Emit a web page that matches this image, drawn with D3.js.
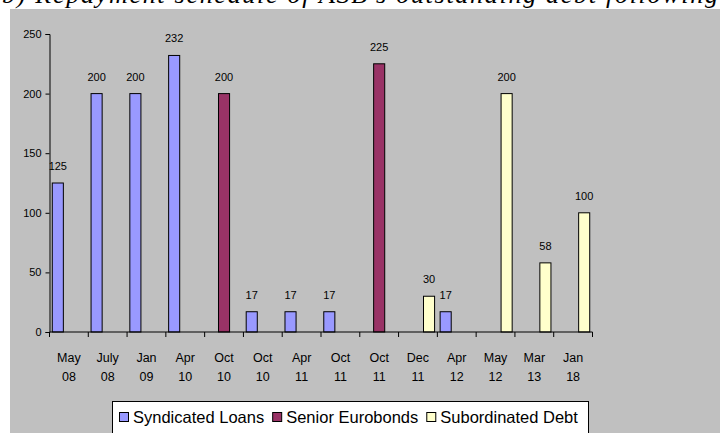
<!DOCTYPE html>
<html>
<head>
<meta charset="utf-8">
<script src="https://cdn.jsdelivr.net/npm/d3@7"></script>
<style>
  body { margin: 0; background: #fff; }
  svg { display: block; }
  text { font-family: "Liberation Sans", Arial, sans-serif; fill: #000; }
</style>
</head>
<body>
<svg id="chart" width="722" height="433"></svg>
<script>
// categories (two-line labels), one bar per category
const monthLabels = ["May", "July", "Jan", "Apr", "Oct", "Oct", "Apr", "Oct", "Oct", "Dec", "Apr", "May", "Mar", "Jan"];
const yearLabels  = ["08", "08", "09", "10", "10", "10", "11", "11", "11", "11", "12", "12", "13", "18"];
const seriesNames = ["Syndicated Loans", "Senior Eurobonds", "Subordinated Debt"];
const syndicatedLoans  = [125, 200, 200, 232, null, 17, 17, 17, null, null, 17, null, null, null];
const seniorEurobonds  = [null, null, null, null, 200, null, null, null, 225, null, null, null, null, null];
const subordinatedDebt = [null, null, null, null, null, null, null, null, null, 30, null, 200, 58, 100];
const yTicks = [0, 50, 100, 150, 200, 250];

const colors = ["#9999ff", "#993366", "#ffffcc"];
const seriesValues = [syndicatedLoans, seniorEurobonds, subordinatedDebt];

let svg = d3.select("#chart");

// heading above the chart, mostly cut off by the page edge as in the source
svg.append("text")
    .attr("x", 2)
    .attr("y", 3)
    .attr("textLength", 716)
    .style("font-family", "'Liberation Serif', 'Times New Roman', serif")
    .style("font-style", "italic")
    .style("font-size", "26px")
    .text("b) Repayment schedule of ASB's outstanding debt following");

// chart area background
svg.append("rect")
    .attr("x", 10).attr("y", 9)
    .attr("width", 710).attr("height", 424)
    .attr("fill", "#c0c0c0");

let plotLeft = 49.5, plotRight = 592.5, plotTop = 34, plotBottom = 332;

let idx = d3.range(monthLabels.length);
let x0 = d3.scaleBand().domain(idx).range([plotLeft, plotRight]);
let x1 = d3.scaleBand().domain(d3.range(seriesNames.length))
    .range([0, x0.bandwidth()]).paddingOuter(0.25);
let y = d3.scaleLinear().domain([0, 250]).range([plotBottom, plotTop]);

// y axis
let yAxis = svg.append("g")
    .attr("transform", "translate(" + plotLeft + ",0)")
    .call(d3.axisLeft(y).tickValues(yTicks).tickSize(4).tickPadding(4));
yAxis.attr("font-family", null).attr("font-size", null);
yAxis.select(".domain").attr("stroke", "#000");
yAxis.selectAll("text").style("font-size", "11px");

// bars
let bars = [];
seriesValues.forEach((vals, s) => {
    vals.forEach((v, i) => { if (v != null) bars.push({ i: i, s: s, v: v }); });
});

let g = svg.append("g");
g.selectAll("rect")
    .data(bars)
    .enter().append("rect")
    .attr("x", d => x0(d.i) + x1(d.s))
    .attr("y", d => y(d.v))
    .attr("width", x1.bandwidth())
    .attr("height", d => y(0) - y(d.v))
    .attr("fill", d => colors[d.s])
    .attr("stroke", "#000")
    .attr("stroke-width", 1);

g.selectAll(".lbl")
    .data(bars)
    .enter().append("text")
    .attr("class", "lbl")
    .attr("x", d => x0(d.i) + x1(d.s) + x1.bandwidth() / 2)
    .attr("y", d => y(d.v) - 13)
    .attr("text-anchor", "middle")
    .style("font-size", "11px")
    .text(d => d.v);

// x axis: ticks on category boundaries
let xg = svg.append("g");
xg.append("line")
    .attr("x1", plotLeft).attr("x2", plotRight)
    .attr("y1", plotBottom).attr("y2", plotBottom)
    .attr("stroke", "#000");
xg.selectAll(".tk")
    .data(idx.concat([idx.length]))
    .enter().append("line")
    .attr("x1", i => i < idx.length ? x0(i) : plotRight)
    .attr("x2", i => i < idx.length ? x0(i) : plotRight)
    .attr("y1", plotBottom).attr("y2", plotBottom + 5)
    .attr("stroke", "#000");
xg.selectAll(".m")
    .data(idx)
    .enter().append("text")
    .attr("x", i => x0(i) + x0.bandwidth() / 2)
    .attr("y", 362)
    .attr("text-anchor", "middle")
    .style("font-size", "12.5px")
    .text(i => monthLabels[i]);
xg.selectAll(".yr")
    .data(idx)
    .enter().append("text")
    .attr("x", i => x0(i) + x0.bandwidth() / 2)
    .attr("y", 381)
    .attr("text-anchor", "middle")
    .style("font-size", "12.5px")
    .text(i => yearLabels[i]);

// legend
let legend = svg.append("g");
legend.append("rect")
    .attr("x", 112.5).attr("y", 401.5)
    .attr("width", 476).attr("height", 40)
    .attr("fill", "#fff").attr("stroke", "#000");
let lx = 119;
seriesNames.forEach((name, s) => {
    legend.append("rect")
        .attr("x", lx + 0.5).attr("y", 412.5)
        .attr("width", 9).attr("height", 9)
        .attr("fill", colors[s]).attr("stroke", "#000");
    let t = legend.append("text")
        .attr("x", lx + 14).attr("y", 423)
        .style("font-size", "16.5px")
        .text(name);
    lx += 14 + t.node().getComputedTextLength() + 8;
});
</script>
</body>
</html>
